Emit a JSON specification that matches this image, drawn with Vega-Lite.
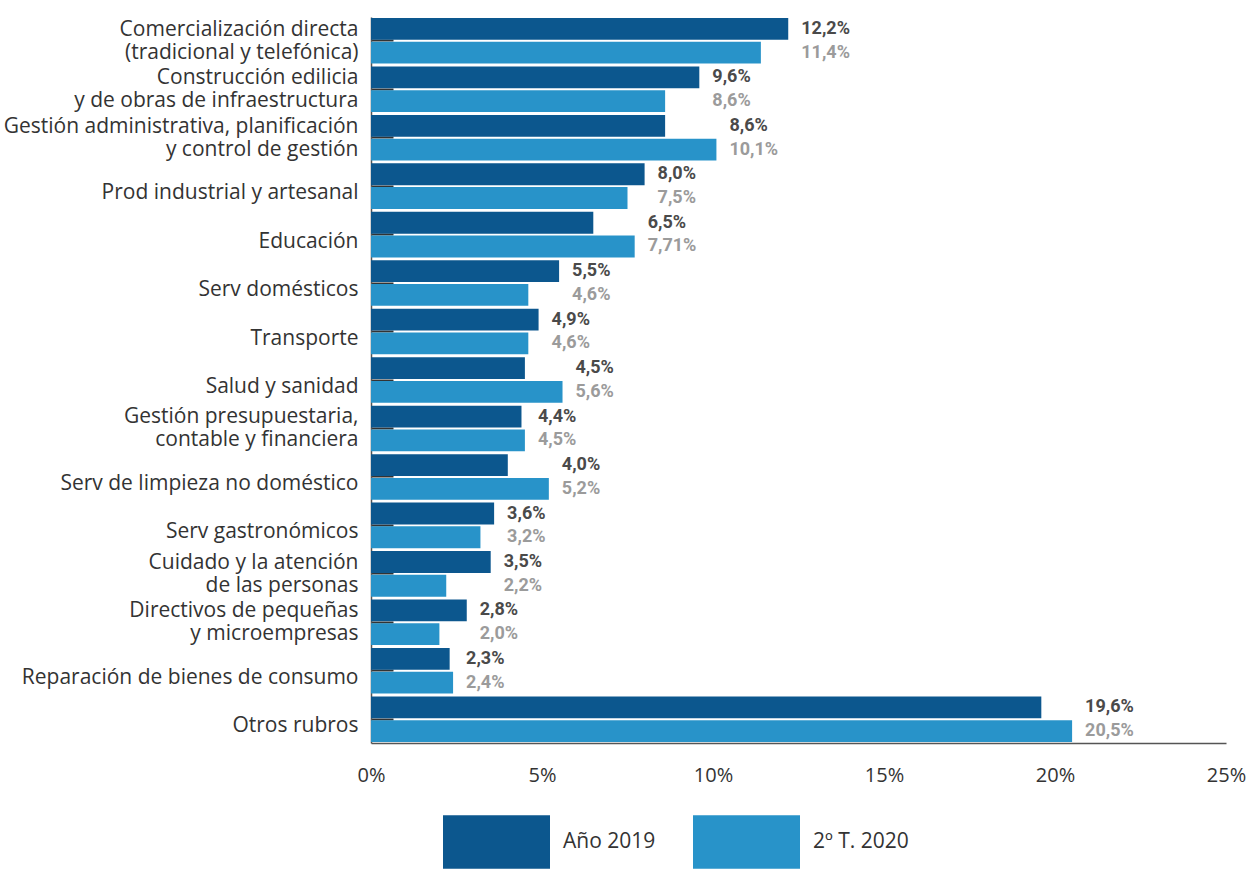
{
  "$schema": "https://vega.github.io/schema/vega-lite/v6.json",
  "width": 855,
  "height": 726,
  "autosize": {"type": "none"},
  "padding": {"left": 371, "top": 17, "right": 24, "bottom": 126},
  "background": "white",
  "config": {
    "view": {"stroke": null},
    "font": "Open Sans"
  },
  "data": {
    "values": [
      {"rubro": "Comercialización directa|(tradicional y telefónica)", "serie": "Año 2019", "valor": 12.2, "etiqueta": "12,2%"},
      {"rubro": "Comercialización directa|(tradicional y telefónica)", "serie": "2º T. 2020", "valor": 11.4, "etiqueta": "11,4%"},
      {"rubro": "Construcción edilicia|y de obras de infraestructura", "serie": "Año 2019", "valor": 9.6, "etiqueta": "9,6%"},
      {"rubro": "Construcción edilicia|y de obras de infraestructura", "serie": "2º T. 2020", "valor": 8.6, "etiqueta": "8,6%"},
      {"rubro": "Gestión administrativa, planificación|y control de gestión", "serie": "Año 2019", "valor": 8.6, "etiqueta": "8,6%"},
      {"rubro": "Gestión administrativa, planificación|y control de gestión", "serie": "2º T. 2020", "valor": 10.1, "etiqueta": "10,1%"},
      {"rubro": "Prod industrial y artesanal", "serie": "Año 2019", "valor": 8.0, "etiqueta": "8,0%"},
      {"rubro": "Prod industrial y artesanal", "serie": "2º T. 2020", "valor": 7.5, "etiqueta": "7,5%"},
      {"rubro": "Educación", "serie": "Año 2019", "valor": 6.5, "etiqueta": "6,5%"},
      {"rubro": "Educación", "serie": "2º T. 2020", "valor": 7.71, "etiqueta": "7,71%"},
      {"rubro": "Serv domésticos", "serie": "Año 2019", "valor": 5.5, "etiqueta": "5,5%"},
      {"rubro": "Serv domésticos", "serie": "2º T. 2020", "valor": 4.6, "etiqueta": "4,6%"},
      {"rubro": "Transporte", "serie": "Año 2019", "valor": 4.9, "etiqueta": "4,9%"},
      {"rubro": "Transporte", "serie": "2º T. 2020", "valor": 4.6, "etiqueta": "4,6%"},
      {"rubro": "Salud y sanidad", "serie": "Año 2019", "valor": 4.5, "etiqueta": "4,5%"},
      {"rubro": "Salud y sanidad", "serie": "2º T. 2020", "valor": 5.6, "etiqueta": "5,6%"},
      {"rubro": "Gestión presupuestaria,|contable y financiera", "serie": "Año 2019", "valor": 4.4, "etiqueta": "4,4%"},
      {"rubro": "Gestión presupuestaria,|contable y financiera", "serie": "2º T. 2020", "valor": 4.5, "etiqueta": "4,5%"},
      {"rubro": "Serv de limpieza no doméstico", "serie": "Año 2019", "valor": 4.0, "etiqueta": "4,0%"},
      {"rubro": "Serv de limpieza no doméstico", "serie": "2º T. 2020", "valor": 5.2, "etiqueta": "5,2%"},
      {"rubro": "Serv gastronómicos", "serie": "Año 2019", "valor": 3.6, "etiqueta": "3,6%"},
      {"rubro": "Serv gastronómicos", "serie": "2º T. 2020", "valor": 3.2, "etiqueta": "3,2%"},
      {"rubro": "Cuidado y la atención|de las personas", "serie": "Año 2019", "valor": 3.5, "etiqueta": "3,5%"},
      {"rubro": "Cuidado y la atención|de las personas", "serie": "2º T. 2020", "valor": 2.2, "etiqueta": "2,2%"},
      {"rubro": "Directivos de pequeñas|y microempresas", "serie": "Año 2019", "valor": 2.8, "etiqueta": "2,8%"},
      {"rubro": "Directivos de pequeñas|y microempresas", "serie": "2º T. 2020", "valor": 2.0, "etiqueta": "2,0%"},
      {"rubro": "Reparación de bienes de consumo", "serie": "Año 2019", "valor": 2.3, "etiqueta": "2,3%"},
      {"rubro": "Reparación de bienes de consumo", "serie": "2º T. 2020", "valor": 2.4, "etiqueta": "2,4%"},
      {"rubro": "Otros rubros", "serie": "Año 2019", "valor": 19.6, "etiqueta": "19,6%"},
      {"rubro": "Otros rubros", "serie": "2º T. 2020", "valor": 20.5, "etiqueta": "20,5%"}
    ]
  },
  "encoding": {
    "y": {
      "field": "rubro",
      "type": "nominal",
      "sort": null,
      "scale": {"paddingInner": 0.06, "paddingOuter": 0.02},
      "axis": {
        "title": null,
        "labelExpr": "split(datum.label, '|')",
        "labelFontSize": 21,
        "labelLineHeight": 23,
        "labelColor": "#333333",
        "labelLimit": 400,
        "labelPadding": 35,
        "labelOffset": {"condition": {"test": "indexof(datum.label, '|') >= 0", "value": -11}, "value": 7},
        "domainColor": "#555555",
        "domainWidth": 1.5,
        "ticks": true,
        "tickSize": -22,
        "tickWidth": 2,
        "tickColor": "#333333",
        "zindex": 0
      }
    },
    "yOffset": {
      "field": "serie",
      "type": "nominal",
      "sort": ["Año 2019", "2º T. 2020"],
      "scale": {"paddingInner": 0.08}
    }
  },
  "layer": [
    {
      "mark": {"type": "bar"},
      "encoding": {
        "x": {
          "field": "valor",
          "type": "quantitative",
          "scale": {"domain": [0, 25], "nice": false},
          "axis": {
            "title": null,
            "values": [0, 5, 10, 15, 20, 25],
            "labelExpr": "datum.value + '%'",
            "labelFontSize": 20,
            "labelColor": "#333333",
            "labelPadding": 22,
            "labelFlush": false,
            "ticks": false,
            "grid": false,
            "domainColor": "#555555",
            "domainWidth": 1.5
          }
        },
        "color": {
          "field": "serie",
          "type": "nominal",
          "sort": ["Año 2019", "2º T. 2020"],
          "scale": {"domain": ["Año 2019", "2º T. 2020"], "range": ["#0c578e", "#2893c9"]},
          "legend": {
            "title": null,
            "orient": "none",
            "direction": "horizontal",
            "legendX": 72,
            "legendY": 771,
            "symbolType": "M-1,-0.5H1V0.5H-1Z",
            "symbolSize": 11449,
            "symbolStrokeWidth": 0,
            "symbolOpacity": 1,
            "labelFontSize": 21,
            "labelColor": "#333333",
            "labelOffset": 13,
            "labelBaseline": "middle",
            "columnPadding": 34,
            "gridAlign": "all"
          }
        }
      }
    },
    {
      "transform": [
        {"joinaggregate": [{"op": "max", "field": "valor", "as": "maxvalor"}], "groupby": ["rubro"]}
      ],
      "mark": {"type": "text", "align": "left", "baseline": "middle", "dx": 13, "font": "Roboto", "fontWeight": "bold", "fontSize": 18},
      "encoding": {
        "x": {"field": "maxvalor", "type": "quantitative", "scale": {"domain": [0, 25], "nice": false}},
        "text": {"field": "etiqueta"},
        "color": {
          "condition": {"test": "datum.serie === 'Año 2019'", "value": "#4a4a4a"},
          "value": "#9b9b9b"
        }
      }
    }
  ]
}
